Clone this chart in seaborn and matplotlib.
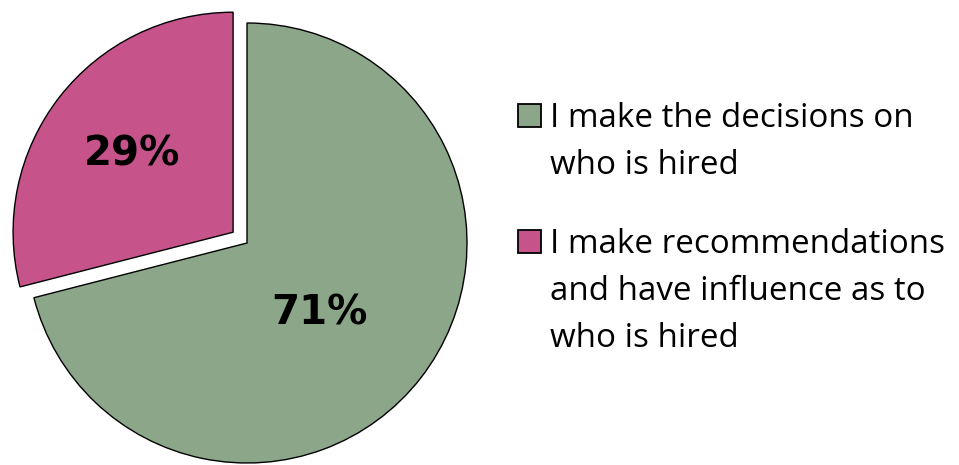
import matplotlib
matplotlib.use("Agg")
import matplotlib.pyplot as plt
from matplotlib.patches import Rectangle
import seaborn as sns

# Survey answers: role in hiring decisions
categories = [
    "I make the decisions on\nwho is hired",
    "I make recommendations\nand have influence as to\nwho is hired",
]
shares = [71, 29]
colors = ["#8CA689", "#C6548B"]

sns.set_theme(style="white")
plt.rcParams["font.family"] = ["Open Sans", "DejaVu Sans"]

W, H = 959, 465
fig = plt.figure(figsize=(W / 100, H / 100), dpi=100)

# Pie axes: centre at (247, 243) px from top-left, radius 220 px
cx, cy, r = 247, H - 243, 220
half = 1.25 * r
ax = fig.add_axes([(cx - half) / W, (cy - half) / H, 2 * half / W, 2 * half / H])
ax.set_xlim(-1.25, 1.25)
ax.set_ylim(-1.25, 1.25)
ax.set_aspect("equal")
ax.axis("off")

wedges, texts, pcts = ax.pie(
    shares,
    colors=colors,
    startangle=90,
    counterclock=False,
    explode=[0, 0.08],
    autopct=lambda p: f"{p:.0f}%",
    pctdistance=0.58,
    wedgeprops=dict(edgecolor="black", linewidth=1.0),
    textprops=dict(fontsize=29, fontweight="bold", color="black",
                   family=["DejaVu Sans"]),
    radius=1.0,
)
pcts[0].set_position((0.33, -0.32))

# Legend: square swatch beside the first line of each wrapped label
box_x, box_size = 518, 23
text_x = 550
line_gap = 47
first_baselines = [127, 253]
for label, color, base in zip(categories, colors, first_baselines):
    fig.patches.append(Rectangle(
        (box_x / W, (H - base) / H), box_size / W, box_size / H,
        transform=fig.transFigure, facecolor=color, edgecolor="black",
        linewidth=1.3,
    ))
    for k, line in enumerate(label.split("\n")):
        fig.text(text_x / W, (H - base - k * line_gap) / H, line,
                 fontsize=23.9, color="black", va="baseline", ha="left")

fig.savefig("out.png", dpi=100)
